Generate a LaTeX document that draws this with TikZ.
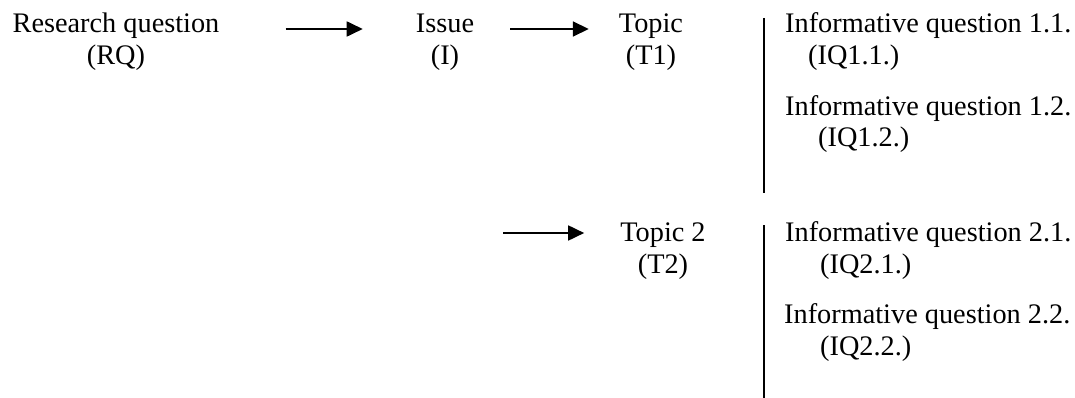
\documentclass[tikz,border=0pt]{standalone}
\usepackage{fontspec}
\setmainfont{Liberation Serif}
\usetikzlibrary{arrows.meta}
\begin{document}
\begin{tikzpicture}[x=1pt,y=-1pt,
  lbl/.style={inner sep=0pt, font=\fontsize{28.3}{32}\selectfont},
  ctr/.style={lbl, align=center, anchor=base},
  lft/.style={lbl, align=left, anchor=base west},
  arr/.style={line width=1.8pt, -{Triangle[length=16pt,width=15pt]}},
  bar/.style={line width=2pt}]
\useasboundingbox (0,0) rectangle (1075,398);
% base anchor = baseline of the last line
\node[ctr] (rq) at (116,65) {Research question\\(RQ)};
\node[ctr] (issue) at (445,65) {Issue\\(I)};
\node[ctr] (t1) at (651,65) {Topic\\(T1)};
\node[ctr] (t2) at (663,273) {Topic 2\\(T2)};
\node[lft] (iq11) at (785,65) {Informative question 1.1.\\\hspace*{23pt}(IQ1.1.)};
\node[lft] (iq12) at (785,147) {Informative question 1.2.\\\hspace*{33pt}(IQ1.2.)};
\node[lft] (iq21) at (785,273) {Informative question 2.1.\\\hspace*{35pt}(IQ2.1.)};
\node[lft] (iq22) at (784,355) {Informative question 2.2.\\\hspace*{36pt}(IQ2.2.)};
\coordinate (s3) at (503,233);
\draw[arr] ([xshift=66pt,yshift=36pt]rq.base east) -- ([xshift=-53pt,yshift=36pt]issue.base west);
\draw[arr] ([xshift=36pt,yshift=36pt]issue.base east) -- ([xshift=-30pt,yshift=36pt]t1.base west);
\draw[arr] (s3) -- ([xshift=-36pt]s3 -| t2.west);
\coordinate (b1t) at (763.5,18);
\coordinate (b1b) at (763.5,193);
\coordinate (b2t) at (763.5,225);
\coordinate (b2b) at (763.5,398);
\draw[bar] (b1t) -- (b1b);
\draw[bar] (b2t) -- (b2b);
\end{tikzpicture}
\end{document}
